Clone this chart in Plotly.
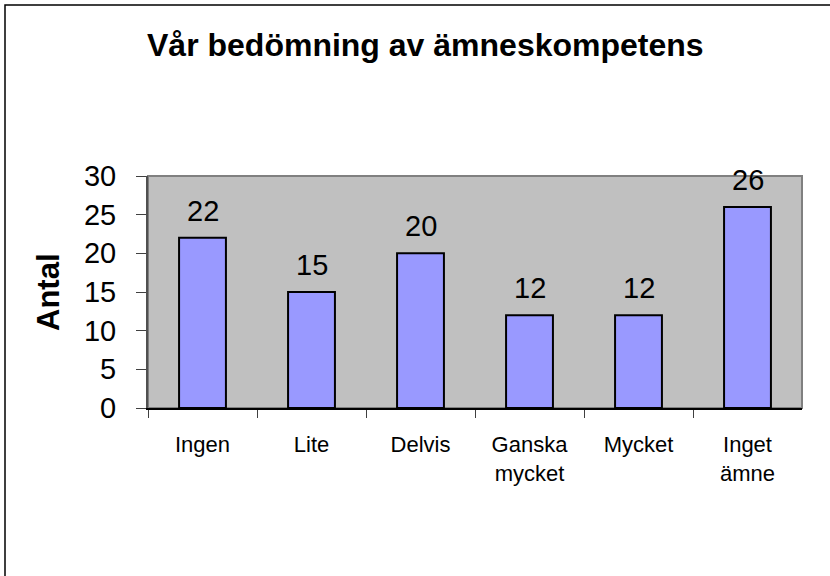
import plotly.graph_objects as go

categories = ["Ingen", "Lite", "Delvis", "Ganska<br>mycket", "Mycket", "Inget<br>ämne"]
values = [22, 15, 20, 12, 12, 26]
y_ticks = [0, 5, 10, 15, 20, 25, 30]
title_text = "Vår bedömning av ämneskompetens"
y_title = "Antal"

W, H = 830, 576
PL, PR, PT, PB = 148, 802, 176, 408
FONT = "Arial, Liberation Sans, sans-serif"

def px(x):
    return x / W

def py(y):
    return 1 - y / H

fig = go.Figure()
fig.add_trace(go.Bar(
    x=categories, y=values, width=0.43,
    marker=dict(color="#9999FF", line=dict(color="black", width=2)),
    showlegend=False, hoverinfo="skip",
))

for c, v in zip(categories, values):
    fig.add_annotation(x=c, y=v, text=str(v), showarrow=False,
                       xref="x", yref="y", yanchor="bottom", yshift=9,
                       font=dict(family=FONT, size=29, color="black"))

fig.add_annotation(x=px(426), y=py(45), xref="paper", yref="paper",
                   text="<b>" + title_text + "</b>", showarrow=False,
                   xanchor="center", yanchor="middle",
                   font=dict(family=FONT, size=32, color="black"))

fig.add_annotation(x=px(48), y=py(292), xref="paper", yref="paper",
                   text="<b>" + y_title + "</b>", showarrow=False, textangle=-90,
                   xanchor="center", yanchor="middle",
                   font=dict(family=FONT, size=31, color="black"))

# plot area border
fig.add_shape(type="rect", xref="x domain", yref="y domain", x0=0, x1=1, y0=0, y1=1,
              line=dict(color="#808080", width=2), layer="below")
# outer chart frame
fig.add_shape(type="rect", xref="paper", yref="paper", x0=px(5), x1=px(840), y0=py(590), y1=py(5),
              line=dict(color="black", width=1.5), layer="above")

fig.update_layout(
    width=W, height=H, autosize=False,
    margin=dict(l=0, r=0, t=0, b=0, pad=0, autoexpand=False),
    paper_bgcolor="white", plot_bgcolor="#C0C0C0",
    xaxis=dict(domain=[px(PL), px(PR)], type="category", automargin=False,
               showline=True, linecolor="black", linewidth=1.5,
               ticks="outside", tickson="boundaries", ticklen=8, tickcolor="#404040", tickwidth=1,
               ticklabelstandoff=16,
               tickfont=dict(family=FONT, size=22, color="black"),
               showgrid=False, zeroline=False, fixedrange=True),
    yaxis=dict(domain=[py(PB), py(PT)], range=[0, 30], tickvals=y_ticks, automargin=False,
               showline=True, linecolor="#505050", linewidth=2,
               ticks="outside", ticklen=10, tickcolor="#404040", tickwidth=1,
               ticklabelstandoff=14,
               tickfont=dict(family=FONT, size=29, color="black"),
               showgrid=False, zeroline=False, fixedrange=True),
)

fig.write_html("out.html", config={"displayModeBar": False},
               post_script="document.body.style.margin='0';document.body.style.overflow='hidden';")
